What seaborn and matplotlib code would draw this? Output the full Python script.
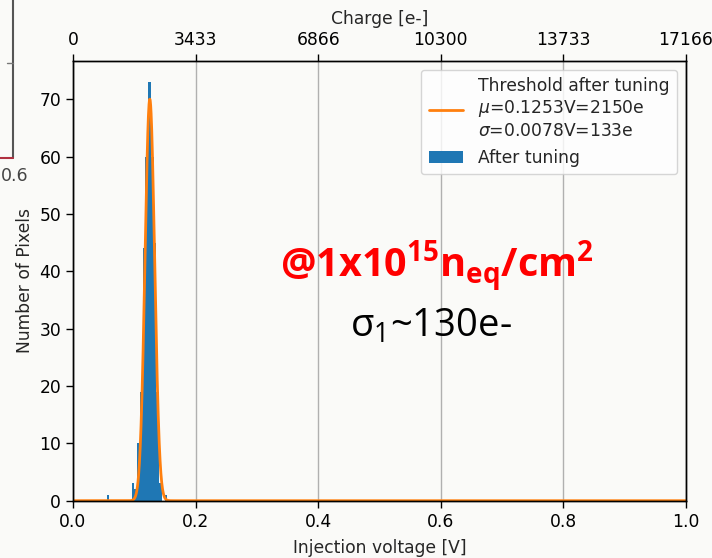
import numpy as np
import pandas as pd
import matplotlib
matplotlib.use("Agg")
import matplotlib.pyplot as plt
import seaborn as sns
from matplotlib.lines import Line2D

# ---- data ----
bin_start = 0.055
bin_width = 0.0045
hist_counts = [1, 0, 0, 0, 0, 0, 0, 0, 0, 3, 2, 10, 19, 44, 60, 73, 60, 45, 19, 3, 0, 1]
fit_mu = 0.1253
fit_sigma = 0.0078
fit_amp = 70.0
x_ticks = [0.0, 0.2, 0.4, 0.6, 0.8, 1.0]
charge_labels = ["0", "3433", "6866", "10300", "13733", "17166"]
fit_label = "Threshold after tuning\n$\\mu$=0.1253V=2150e\n$\\sigma$=0.0078V=133e"
hist_label = "After tuning"

BG = "#fafaf8"
BLUE = "#1f77b4"
ORANGE = "#ff7f0e"

sns.set_theme(style="ticks")
plt.rcParams.update({
    "font.family": ["DejaVu Sans"],
    "figure.facecolor": BG,
    "axes.facecolor": BG,
    "axes.edgecolor": "black",
    "axes.linewidth": 1.0,
    "xtick.color": "black",
    "ytick.color": "black",
    "mathtext.fontset": "dejavusans",
    "mathtext.rm": "Open Sans",
    "mathtext.it": "Open Sans:italic",
    "mathtext.bf": "Open Sans:bold",
})

FS = 12.3
fig = plt.figure(figsize=(7.12, 5.58), dpi=100)
ax = fig.add_axes([73 / 712, 1 - 500.7 / 558, 613 / 712, (500.7 - 61) / 558])

edges = [float(e) for e in bin_start + bin_width * np.arange(len(hist_counts) + 1)]
centers = [(a + b) / 2 for a, b in zip(edges[:-1], edges[1:])]
df = pd.DataFrame({"v": centers, "n": hist_counts})

xfit = np.linspace(0, 1, 3000)
yfit = fit_amp * np.exp(-0.5 * ((xfit - fit_mu) / fit_sigma) ** 2)

sns.histplot(data=df, x="v", weights="n", bins=edges, ax=ax, color=BLUE,
             alpha=1, linewidth=0, label=hist_label)
sns.lineplot(x=xfit, y=yfit, ax=ax, color=ORANGE, lw=2, label=fit_label)

ax.set_xlim(0, 1)
ax.set_ylim(0, 76.65)
ax.set_xticks(x_ticks)
ax.set_xticklabels([f"{t:.1f}" for t in x_ticks])
ax.set_yticks(np.arange(0, 71, 10))
ax.tick_params(labelsize=FS, length=5, width=1, direction="out")
ax.set_xlabel("Injection voltage [V]", fontsize=FS, labelpad=6)
ax.set_ylabel("Number of Pixels", fontsize=FS, labelpad=4)
ax.grid(axis="x", color="#b0b0b0", lw=1)
ax.set_axisbelow(True)
for s in ax.spines.values():
    s.set_visible(True)

leg = ax.legend(loc="upper right", fontsize=FS, frameon=True, facecolor="white",
                edgecolor="#cccccc", framealpha=0.8, fancybox=True,
                borderpad=0.45, handletextpad=0.9)

ax2 = ax.twiny()
ax2.set_xlim(0, 1)
ax2.set_xticks(x_ticks)
ax2.set_xticklabels(charge_labels)
ax2.tick_params(labelsize=FS, length=5, width=1, direction="out")
ax2.set_xlabel("Charge [e-]", fontsize=FS, labelpad=5)

ax.text(0.594, 38.8, "@1x10$^{\\mathbf{15}}$n$_{\\mathbf{eq}}$/cm$^{\\mathbf{2}}$",
        color="red", fontsize=28.5, fontweight="bold", family="Open Sans",
        math_fontfamily="custom", ha="center", va="baseline")
ax.text(0.584, 28.6, "\u03c3$_{1}$~130e-", color="black", fontsize=27.5,
        family="Open Sans", math_fontfamily="custom", ha="center", va="baseline")

# fragment of a neighbouring picture at the top-left corner
W, H = 712, 558
fig.add_artist(Line2D([12.5 / W, 12.5 / W], [1, 1 - 158 / H], transform=fig.transFigure,
                      color="#555555", lw=1.5))
fig.add_artist(Line2D([0, 12.5 / W], [1 - 158 / H, 1 - 158 / H], transform=fig.transFigure,
                      color="#b03040", lw=1.5))
fig.add_artist(Line2D([7 / W, 12.5 / W], [1 - 63 / H, 1 - 63 / H], transform=fig.transFigure,
                      color="#777777", lw=1))
fig.text(1 / W, 1 - 181 / H, "0.6", color="#444444", fontsize=12.5, ha="left", va="baseline")

fig.savefig("out.png", dpi=100, facecolor=BG)
